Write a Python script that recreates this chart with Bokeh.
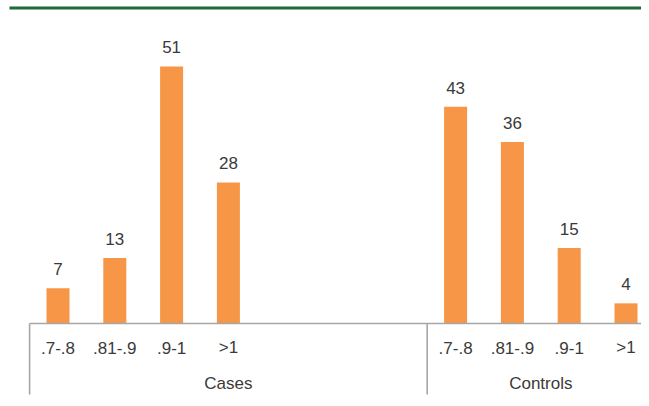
from bokeh.plotting import figure
from bokeh.models import Range1d, ColumnDataSource
from bokeh.core.properties import value
from bokeh.embed import file_html
from bokeh.resources import INLINE

groups = ["Cases", "Controls"]
group_slots = [7, 4]
categories = [".7-.8", ".81-.9", ".9-1", ">1"]
cases = [7, 13, 51, 28]
controls = [43, 36, 15, 4]
series = [cases, controls]

W, H = 641, 398
px_per_unit = 5.04
slot_px = 56.8
y0_px = 323.0          # canvas px of the baseline from top
x0_px = 57.5           # canvas px of first slot centre

x_start = -x0_px / slot_px
x_end = (W - x0_px) / slot_px
y_end = y0_px / px_per_unit
y_start = -(H - y0_px) / px_per_unit

p = figure(width=W, height=H, output_backend="svg", toolbar_location=None,
           x_range=Range1d(x_start, x_end), y_range=Range1d(y_start, y_end),
           x_axis_type=None, y_axis_type=None, min_border=0)
p.outline_line_color = None
p.xgrid.visible = False
p.ygrid.visible = False
p.background_fill_color = "white"

xs, tops, labs, cats = [], [], [], []
group_bounds = []
start = 0
for g, n, vals in zip(groups, group_slots, series):
    group_bounds.append((start - 0.5, start + n - 0.5))
    for i, (c, v) in enumerate(zip(categories, vals)):
        xs.append(start + i)
        tops.append(v)
        labs.append(str(v))
        cats.append(c)
    start += n

src = ColumnDataSource(dict(x=xs, top=tops, lab=labs, cat=cats))
p.vbar(x="x", top="top", width=0.405, bottom=0, source=src,
       fill_color="#f79646", line_color=None)

font = value("Liberation Sans")
text_col = "#3a3a3a"
p.text(x="x", y="top", text="lab", source=src, text_font=font,
       text_font_size="17px", text_color=text_col, text_align="center",
       text_baseline="alphabetic", y_offset=-19)

lab_y = -24.3 / px_per_unit
grp_y = -60.3 / px_per_unit
p.text(x="x", y=lab_y, text="cat", source=src, text_font=font,
       text_font_size="17px", text_color=text_col, text_align="center",
       text_baseline="alphabetic")

gx = [(a + b) / 2 for a, b in group_bounds]
p.text(x=gx, y=[grp_y] * len(gx), text=groups, text_font=font,
       text_font_size="17px", text_color=text_col, text_align="center",
       text_baseline="alphabetic")

axis_col = "#a6a6a6"
sep_bottom = -71.0 / px_per_unit
sep_x = [group_bounds[0][0]] + [b for a, b in group_bounds]
p.segment(x0=sep_x, y0=[0] * len(sep_x), x1=sep_x, y1=[sep_bottom] * len(sep_x),
          line_color=axis_col, line_width=1.6)
p.segment(x0=[group_bounds[0][0]], y0=[0], x1=[x_end + 1], y1=[0],
          line_color=axis_col, line_width=1.6)

rule_y = y_end - 7.5 / px_per_unit
rule_x0 = x_start + 9 / slot_px
p.segment(x0=[rule_x0], y0=[rule_y], x1=[x_end + 1], y1=[rule_y],
          line_color="#1d6b38", line_width=3.2)

open("out.html", "w").write(file_html(p, INLINE))
